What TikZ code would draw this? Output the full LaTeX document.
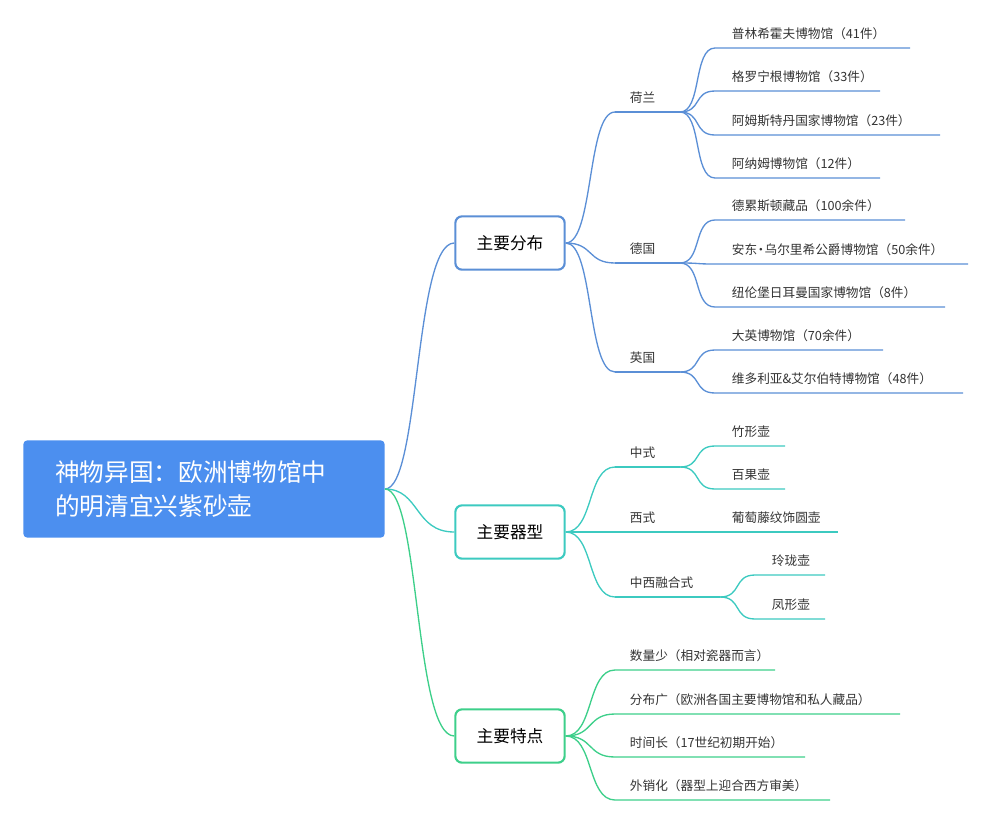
\documentclass[tikz,border=0pt]{standalone}
\usepackage{fontspec}
\setmainfont{Noto Sans CJK SC}
\usetikzlibrary{positioning}
\definecolor{rootblue}{HTML}{4C8FEF}
\definecolor{lblue}{HTML}{5B8FD6}
\definecolor{lteal}{HTML}{3CCAC0}
\definecolor{lgreen}{HTML}{3DCF8A}
\tikzstyle{root} = [rectangle, rounded corners=3pt, fill=rootblue, text=white, inner xsep=24pt, text width=223pt, minimum height=73pt, align=left, font=\fontsize{18.5}{26}\selectfont]
\tikzstyle{topic} = [rectangle, rounded corners=5pt, line width=1.6pt, fill=white, minimum width=82pt, minimum height=40pt, font=\fontsize{12.5}{14}\selectfont]
\tikzstyle{leaf} = [anchor=south west, inner xsep=2pt, inner ysep=0pt, yshift=6pt, font=\fontsize{9.5}{11}\selectfont, text=black!80]
\tikzstyle{link} = [line width=1pt]

\begin{document}
\begin{tikzpicture}[x=0.75pt, y=-0.75pt]
      \useasboundingbox (0,0) rectangle (1000,822);
      \node (root) [root] at (204,489) {神物异国：欧洲博物馆中\\的明清宜兴紫砂壶};
      \node (dist) [topic, draw=lblue] at (510,243) {主要分布};
      \node (form) [topic, draw=lteal] at (510,532) {主要器型};
      \node (feat) [topic, draw=lgreen] at (510,736) {主要特点};
      \draw [link, lblue] (root.east) .. controls +(35,0) and +(-40,0) .. (dist.west);
      \draw [link, lteal] (root.east) .. controls +(35,0) and +(-40,0) .. (form.west);
      \draw [link, lgreen] (root.east) .. controls +(35,0) and +(-40,0) .. (feat.west);
      % 主要分布
      \coordinate (nls) at (615,112); \coordinate (nle) at (680,112);
      \coordinate (des) at (615,263); \coordinate (dee) at (680,263);
      \coordinate (uks) at (615,372); \coordinate (uke) at (680,372);
      \node (nl) [leaf] at (627,112) {荷兰};
      \node (de) [leaf] at (627,263) {德国};
      \node (uk) [leaf] at (627,372) {英国};
      \foreach \s in {nls,des,uks}
        \draw [link, lblue] (dist.east) .. controls +(28,0) and +(-28,0) .. (\s);
      \draw [link, lblue] (nls) -- (nle) (des) -- (dee) (uks) -- (uke);
      \foreach \y/\e/\t in {48/910/普林希霍夫博物馆（41件）, 91/880/格罗宁根博物馆（33件）, 135/940/阿姆斯特丹国家博物馆（23件）, 178/880/阿纳姆博物馆（12件）}{
        \node [leaf] at (729,\y) {\t};
        \draw [link, lblue] (nle) .. controls +(22,0) and +(-22,0) .. (715,\y) -- (\e,\y);
      }
      \foreach \y/\e/\t in {220/905/德累斯顿藏品（100余件）, 264/968/安东{\kern-2pt}·{\kern-2pt}乌尔里希公爵博物馆（50余件）, 307/945/纽伦堡日耳曼国家博物馆（8件）}{
        \node [leaf] at (729,\y) {\t};
        \draw [link, lblue] (dee) .. controls +(22,0) and +(-22,0) .. (715,\y) -- (\e,\y);
      }
      \foreach \y/\e/\t in {350/883/大英博物馆（70余件）, 393/963/维多利亚\&艾尔伯特博物馆（48件）}{
        \node [leaf] at (729,\y) {\t};
        \draw [link, lblue] (uke) .. controls +(22,0) and +(-22,0) .. (715,\y) -- (\e,\y);
      }
      % 主要器型
      \coordinate (cns) at (615,467); \coordinate (cne) at (680,467);
      \coordinate (wss) at (615,532); \coordinate (wse) at (838,532);
      \coordinate (mxs) at (615,597); \coordinate (mxe) at (720,597);
      \node (cn) [leaf] at (627,467) {中式};
      \node (ws) [leaf] at (627,532) {西式};
      \node (mx) [leaf] at (627,597) {中西融合式};
      \node (grape) [leaf] at (729,532) {葡萄藤纹饰圆壶};
      \foreach \s in {cns,wss,mxs}
        \draw [link, lteal] (form.east) .. controls +(28,0) and +(-28,0) .. (\s);
      \draw [link, lteal] (cns) -- (cne) (wss) -- (wse) (mxs) -- (mxe);
      \foreach \y/\t in {446/竹形壶, 489/百果壶}{
        \node [leaf] at (729,\y) {\t};
        \draw [link, lteal] (cne) .. controls +(22,0) and +(-22,0) .. (715,\y) -- (785,\y);
      }
      \foreach \y/\t in {575/玲珑壶, 619/凤形壶}{
        \node [leaf] at (769,\y) {\t};
        \draw [link, lteal] (mxe) .. controls +(22,0) and +(-22,0) .. (755,\y) -- (825,\y);
      }
      % 主要特点
      \foreach \y/\e/\t in {670/775/数量少（相对瓷器而言）, 714/900/分布广（欧洲各国主要博物馆和私人藏品）, 757/805/时间长（17世纪初期开始）, 800/830/外销化（器型上迎合西方审美）}{
        \node [leaf] at (627,\y) {\t};
        \draw [link, lgreen] (feat.east) .. controls +(28,0) and +(-28,0) .. (615,\y) -- (\e,\y);
      }
\end{tikzpicture}
\end{document}
